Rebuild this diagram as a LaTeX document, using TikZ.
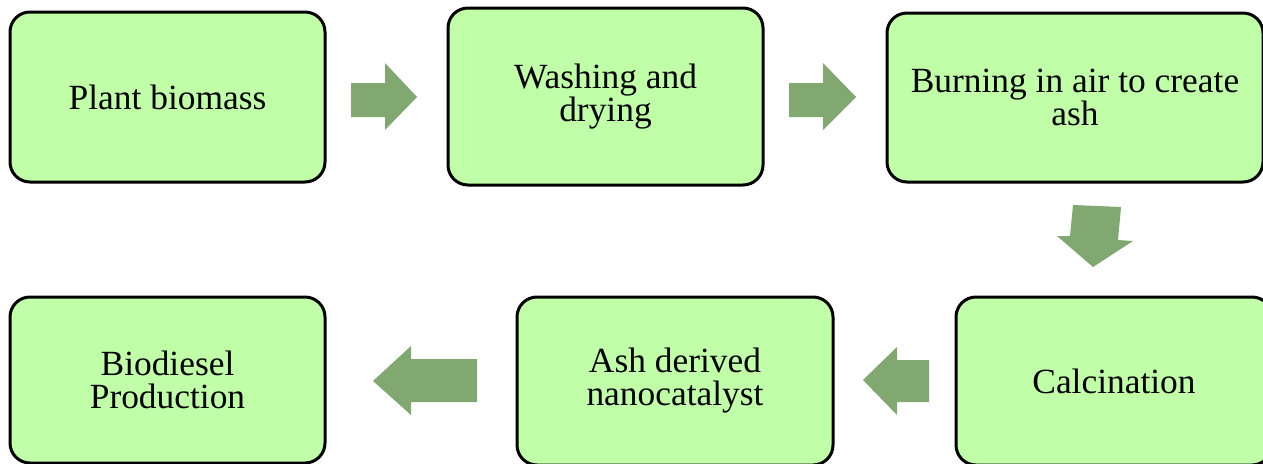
\documentclass[tikz,border=0pt]{standalone}
\usepackage{fontspec}
\setmainfont{Liberation Serif}
\definecolor{boxfill}{RGB}{192,255,168}
\definecolor{arrowfill}{RGB}{128,168,112}
\begin{document}
\begin{tikzpicture}[x=1pt,y=-1pt,
  box/.style={draw=black, line width=3pt, rounded corners=20pt, fill=boxfill,
    align=center, inner sep=0pt, font=\fontsize{35.4}{33}\selectfont},
  blockarrow/.style={fill=arrowfill, draw=none}]
\useasboundingbox (0,0) rectangle (1263,463);
\fill[white] (0,0) rectangle (1263,463);
% top row
\node[box, minimum width=315pt, minimum height=170pt] (b1) at (167.5,97) {Plant biomass};
\node[box, minimum width=315pt, minimum height=177pt] (b2) at (605.5,96.5) {Washing and\\drying};
\node[box, minimum width=376pt, minimum height=169pt] (b3) at (1075,97.5) {Burning in air to create\\ash};
% bottom row
\node[box, minimum width=316pt, minimum height=168pt] (b4) at (1114,381) {Calcination};
\node[box, minimum width=316pt, minimum height=168pt] (b5) at (675,381) {Ash derived\\nanocatalyst};
\node[box, minimum width=315pt, minimum height=166pt] (b6) at (167.5,380) {Biodiesel\\Production};
% block arrows
\fill[blockarrow] (351,83) -- (385,83) -- (385,63) -- (417,97) -- (385,130) -- (385,117) -- (351,117) -- cycle;
\fill[blockarrow] (789,83) -- (823,83) -- (823,63) -- (856,97) -- (823,130) -- (823,117) -- (789,117) -- cycle;
\fill[blockarrow] (1073,205) -- (1121,207) -- (1118,240) -- (1133,241) -- (1093,267) -- (1057,236) -- (1070,236) -- cycle;
\fill[blockarrow] (929,360) -- (897,360) -- (897,347) -- (863,380) -- (897,415) -- (897,402) -- (929,402) -- cycle;
\fill[blockarrow] (477,359) -- (411,359) -- (411,346) -- (373,381) -- (411,415) -- (411,402) -- (477,402) -- cycle;
\end{tikzpicture}
\end{document}
